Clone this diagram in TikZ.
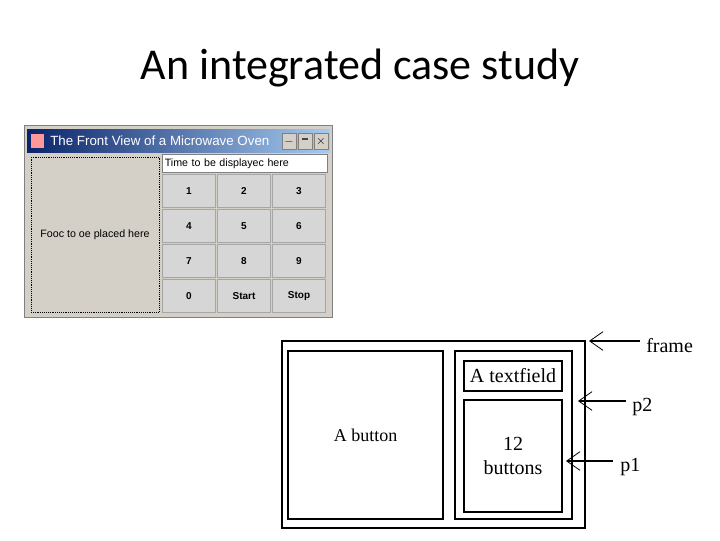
\documentclass[tikz,border=0pt]{standalone}
\usepackage{fontspec}
\setmainfont{Carlito}
\newfontfamily\serifx{Liberation Serif}
\newfontfamily\sansx{Liberation Sans}
\usetikzlibrary{arrows.meta}
\definecolor{wingray}{RGB}{212,208,200}
\definecolor{btngray}{RGB}{214,214,214}
\definecolor{titleA}{RGB}{10,36,106}
\definecolor{titleB}{RGB}{166,202,240}
\tikzset{
 key/.style={draw=gray!70,fill=btngray,minimum width=53\ux,minimum height=33\ux,inner sep=0pt,font=\sansx\fontsize{7.5}{8}\selectfont\bfseries},
 box/.style={draw=black,line width=0.9pt},
 lbl/.style={font=\serifx\fontsize{13.5}{14}\selectfont,inner sep=0pt},
 plbl/.style={font=\serifx\fontsize{15}{16}\selectfont,inner sep=0pt},
 ptr/.style={line width=0.8pt,-{Straight Barb[length=10pt,width=14pt,line width=0.6pt]}}
}
\newlength{\ux}\setlength{\ux}{0.75pt}
\begin{document}
\begin{tikzpicture}[x=0.75pt,y=-0.75pt]
\useasboundingbox (0,0) rectangle (720,540);
\node (title) at (360,68) {\fontsize{33}{36}\selectfont An integrated case study};
% window
\draw[fill=wingray,draw=gray] (24,125) rectangle (332,317);
\shade[left color=titleA,right color=titleB] (27,129) rectangle (330,152);
\node[anchor=west,text=white,font=\sansx\fontsize{10}{11}\selectfont,inner sep=0pt] (wt) at (50,141) {The Front View of a Microwave Oven};
\fill[red!40] (31,134) rectangle (44,148);
\foreach \x/\s in {282/\_,298/\textminus,314/$\times$}{
 \node[draw=gray,fill=wingray,minimum width=14\ux,minimum height=16\ux,inner sep=0pt,font=\sansx\bfseries\small] at (\x+7,141) {\s};}
\node[draw=black,densely dotted,fill=wingray,minimum width=128\ux,minimum height=155\ux,inner sep=0pt,font=\sansx\fontsize{8}{9}\selectfont] (food) at (95,234.5) {Fooc to oe placed here};
\node[draw=gray,fill=white,minimum width=165\ux,minimum height=18\ux,inner sep=1pt,anchor=north west,font=\sansx\fontsize{8}{9}\selectfont,text width=160\ux] (tf) at (162,154) {Time to be displayec here};
\foreach \t [count=\i from 0] in {1,2,3,4,5,6,7,8,9,0,Start,Stop}{
 \pgfmathtruncatemacro{\c}{mod(\i,3)}\pgfmathtruncatemacro{\r}{div(\i,3)}
 \node[key] (k\i) at (189+\c*55,191+\r*35) {\t};}
% layout diagram
\node[box,minimum width=303\ux,minimum height=187\ux,inner sep=0pt] (frame) at (433.5,434.5) {};
\node[box,minimum width=155\ux,minimum height=168\ux,inner sep=0pt,lbl] (btn) at (365.5,435) {A button};
\node[box,minimum width=117\ux,minimum height=168\ux,inner sep=0pt] (p2) at (513.5,435) {};
\node[box,minimum width=98\ux,minimum height=30\ux,inner sep=0pt,font=\serifx\fontsize{15}{16}\selectfont] (tfx) at (513,376) {A textfield};
\node[box,minimum width=98\ux,minimum height=112\ux,inner sep=0pt,font=\serifx\fontsize{15}{16}\selectfont,align=center] (p1) at (513,456) {12\\[2pt]buttons};
\node[plbl,anchor=west] (lf) at (646,346) {frame};
\node[plbl,anchor=west] (l2) at (632,407) {p2};
\node[plbl,anchor=west] (l1) at (620,467) {p1};
\coordinate (a1) at (640,341); \coordinate (b1) at (589,341);
\coordinate (a2) at (626,401); \coordinate (b2) at (578,401);
\coordinate (a3) at (613,461); \coordinate (b3) at (566,461);
\draw[ptr] (a1) -- (b1);
\draw[ptr,line width=1.4pt] (a2) -- (b2);
\draw[ptr] (a3) -- (b3);
\end{tikzpicture}
\end{document}
